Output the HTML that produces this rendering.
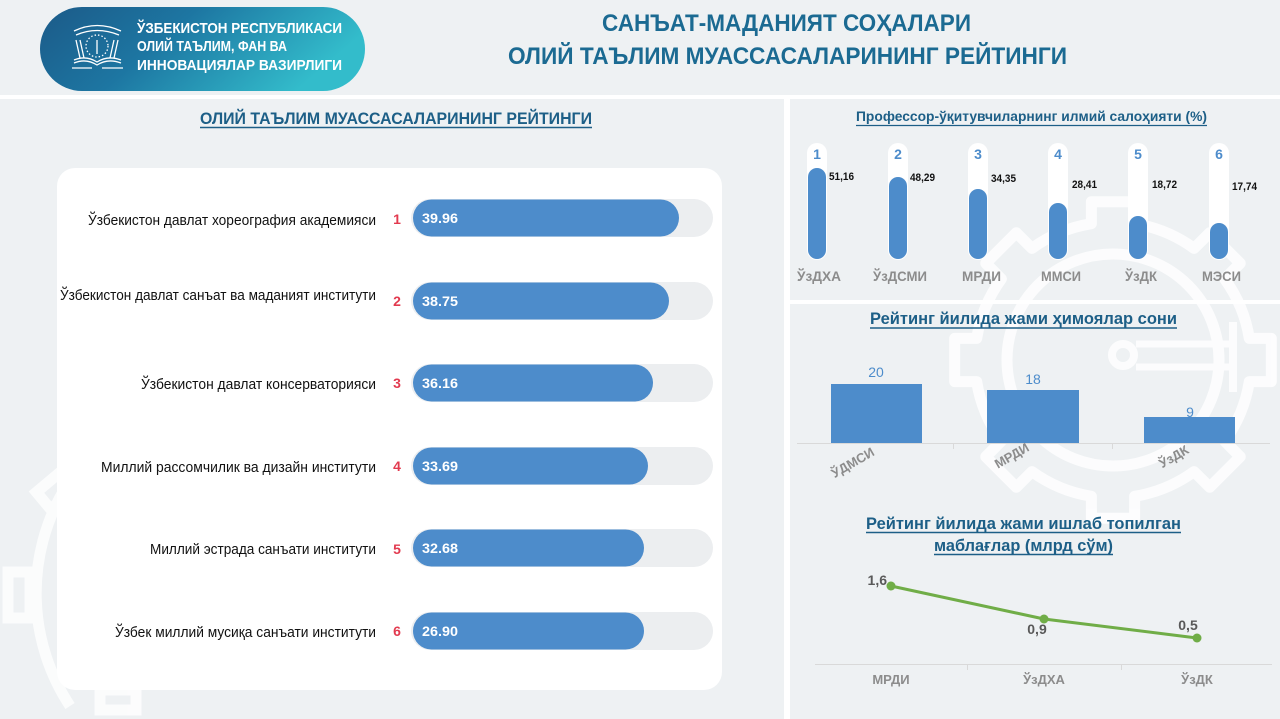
<!DOCTYPE html>
<html>
<head>
<meta charset="utf-8">
<style>
html,body{margin:0;padding:0;background:#eef1f3;width:1280px;height:719px;overflow:hidden;}
svg{display:block;position:absolute;left:0;top:0;}
text{font-family:"Liberation Sans","DejaVu Sans",sans-serif;}
</style>
</head>
<body>
<svg width="1280" height="719" viewBox="0 0 1280 719" xmlns="http://www.w3.org/2000/svg" overflow="hidden">
<defs>
  <linearGradient id="pill" x1="0" y1="0" x2="1" y2="0.3">
    <stop offset="0" stop-color="#1b5a88"/>
    <stop offset="0.45" stop-color="#1d76a2"/>
    <stop offset="1" stop-color="#33bccb"/>
  </linearGradient>
</defs>

<!-- background -->
<rect x="0" y="0" width="1280" height="719" fill="#eef1f3"/>

<!-- decorative gears -->
<g fill="none" stroke="#ffffff" stroke-width="11" opacity="0.85" stroke-linejoin="round">
  <path d="M1134.6,223.7 A138 138 0 0 1 1194.1,248.4 L1209.7,232.8 L1240.2,263.3 L1224.6,278.9 A138 138 0 0 1 1249.3,338.4 L1271.3,338.4 L1271.3,381.6 L1249.3,381.6 A138 138 0 0 1 1224.6,441.1 L1240.2,456.7 L1209.7,487.2 L1194.1,471.6 A138 138 0 0 1 1134.6,496.3 L1134.6,518.3 L1091.4,518.3 L1091.4,496.3 A138 138 0 0 1 1031.9,471.6 L1016.3,487.2 L985.8,456.7 L1001.4,441.1 A138 138 0 0 1 976.7,381.6 L954.7,381.6 L954.7,338.4 L976.7,338.4 A138 138 0 0 1 1001.4,278.9 L985.8,263.3 L1016.3,232.8 L1031.9,248.4 A138 138 0 0 1 1091.4,223.7 L1091.4,201.7 L1134.6,201.7 Z"/>
  <circle cx="1113" cy="360" r="106"/>
  <circle cx="1123" cy="355" r="11" stroke-width="8"/>
  <line x1="1136" y1="344" x2="1233" y2="344" stroke-width="7"/>
  <line x1="1136" y1="367" x2="1233" y2="367" stroke-width="7"/>
  <line x1="1233" y1="322" x2="1233" y2="392" stroke-width="8"/>
</g>
<g fill="none" stroke="#ffffff" stroke-width="11" opacity="0.8">
  <path d="M64,490 A205 205 0 0 0 70,706"/>
  <rect x="8" y="572" width="22" height="46"/>
  <rect x="100" y="690" width="36" height="20"/>
  <rect x="40" y="480" width="30" height="22" transform="rotate(-40 55 491)"/>
</g>

<!-- separators -->
<rect x="0" y="95" width="1280" height="4" fill="#ffffff"/>
<rect x="784" y="95" width="6" height="624" fill="#ffffff"/>
<rect x="790" y="300" width="490" height="4" fill="#ffffff"/>

<!-- header pill -->
<rect x="40" y="7" width="325" height="84" rx="42" fill="url(#pill)"/>
<g fill="none" stroke="#ffffff" stroke-width="1.3">
  <path d="M74,31 Q97,20 121,31"/>
  <path d="M76,35 Q97,26 119,35"/>
  <circle cx="97" cy="46" r="11" stroke-dasharray="1.5 2"/>
  <line x1="97" y1="40" x2="97" y2="54"/>
  <path d="M76,40 L80,58 M80,40 L84,58 M114,40 L110,58 M118,40 L114,58"/>
  <path d="M74,60 Q86,55 97,62 Q108,55 121,60"/>
  <path d="M74,63 Q86,58 97,65 Q108,58 121,63"/>
  <line x1="72" y1="68" x2="92" y2="68"/>
  <line x1="102" y1="68" x2="123" y2="68"/>
</g>
<g fill="#ffffff" font-weight="bold" font-size="15">
  <text x="137" y="33" textLength="205" lengthAdjust="spacingAndGlyphs">ЎЗБЕКИСТОН РЕСПУБЛИКАСИ</text>
  <text x="137" y="51" textLength="150" lengthAdjust="spacingAndGlyphs">ОЛИЙ ТАЪЛИМ, ФАН ВА</text>
  <text x="137" y="70" textLength="205" lengthAdjust="spacingAndGlyphs">ИННОВАЦИЯЛАР ВАЗИРЛИГИ</text>
</g>

<!-- main title -->
<g fill="#1b6a92" font-weight="bold" font-size="24">
  <text x="602" y="31" textLength="369" lengthAdjust="spacingAndGlyphs">САНЪАТ-МАДАНИЯТ СОҲАЛАРИ</text>
  <text x="508" y="64" textLength="559" lengthAdjust="spacingAndGlyphs">ОЛИЙ ТАЪЛИМ МУАССАСАЛАРИНИНГ РЕЙТИНГИ</text>
</g>

<!-- left subtitle -->
<text x="200" y="124" fill="#1d5f87" font-weight="bold" font-size="17" textLength="392" lengthAdjust="spacingAndGlyphs">ОЛИЙ ТАЪЛИМ МУАССАСАЛАРИНИНГ РЕЙТИНГИ</text>
<line x1="200" y1="127.5" x2="592" y2="127.5" stroke="#1d5f87" stroke-width="1.5"/>

<!-- white card -->
<rect x="57" y="168" width="665" height="522" rx="18" fill="#ffffff"/>

<!-- rows -->
<g font-size="15" fill="#111111">
  <text x="88" y="225" textLength="288" lengthAdjust="spacingAndGlyphs">Ўзбекистон давлат хореография академияси</text>
  <text x="60" y="300" textLength="316" lengthAdjust="spacingAndGlyphs">Ўзбекистон давлат санъат ва маданият институти</text>
  <text x="141" y="389" textLength="235" lengthAdjust="spacingAndGlyphs">Ўзбекистон давлат консерваторияси</text>
  <text x="101" y="472" textLength="275" lengthAdjust="spacingAndGlyphs">Миллий рассомчилик ва дизайн институти</text>
  <text x="150" y="554" textLength="226" lengthAdjust="spacingAndGlyphs">Миллий эстрада санъати институти</text>
  <text x="115" y="637" textLength="261" lengthAdjust="spacingAndGlyphs">Ўзбек миллий мусиқа санъати институти</text>
</g>
<g font-size="14" font-weight="bold" fill="#e23a4f" text-anchor="middle">
  <text x="397" y="224">1</text>
  <text x="397" y="306">2</text>
  <text x="397" y="388">3</text>
  <text x="397" y="471">4</text>
  <text x="397" y="554">5</text>
  <text x="397" y="636">6</text>
</g>
<g fill="#eceef0">
  <rect x="411" y="199" width="302" height="38" rx="19"/>
  <rect x="411" y="282" width="302" height="38" rx="19"/>
  <rect x="411" y="364" width="302" height="38" rx="19"/>
  <rect x="411" y="447" width="302" height="38" rx="19"/>
  <rect x="411" y="529" width="302" height="38" rx="19"/>
  <rect x="411" y="612" width="302" height="38" rx="19"/>
</g>
<g fill="#4d8ccb">
  <rect x="413" y="199.5" width="266" height="37" rx="18.5"/>
  <rect x="413" y="282.5" width="256" height="37" rx="18.5"/>
  <rect x="413" y="364.5" width="240" height="37" rx="18.5"/>
  <rect x="413" y="447.5" width="235" height="37" rx="18.5"/>
  <rect x="413" y="529.5" width="231" height="37" rx="18.5"/>
  <rect x="413" y="612.5" width="231" height="37" rx="18.5"/>
</g>
<g font-size="14" font-weight="bold" fill="#ffffff">
  <text x="422" y="223" textLength="36" lengthAdjust="spacingAndGlyphs">39.96</text>
  <text x="422" y="306" textLength="36" lengthAdjust="spacingAndGlyphs">38.75</text>
  <text x="422" y="388" textLength="36" lengthAdjust="spacingAndGlyphs">36.16</text>
  <text x="422" y="471" textLength="36" lengthAdjust="spacingAndGlyphs">33.69</text>
  <text x="422" y="553" textLength="36" lengthAdjust="spacingAndGlyphs">32.68</text>
  <text x="422" y="636" textLength="36" lengthAdjust="spacingAndGlyphs">26.90</text>
</g>

<!-- right section 1 -->
<text x="856" y="121" fill="#1d5f87" font-weight="bold" font-size="14" textLength="351" lengthAdjust="spacingAndGlyphs">Профессор-ўқитувчиларнинг илмий салоҳияти (%)</text>
<line x1="856" y1="125.5" x2="1207" y2="125.5" stroke="#1d5f87" stroke-width="1.3"/>

<g fill="#ffffff">
  <rect x="807" y="143" width="20" height="117" rx="10"/>
  <rect x="888" y="143" width="20" height="117" rx="10"/>
  <rect x="968" y="143" width="20" height="117" rx="10"/>
  <rect x="1048" y="143" width="20" height="117" rx="10"/>
  <rect x="1128" y="143" width="20" height="117" rx="10"/>
  <rect x="1209" y="143" width="20" height="117" rx="10"/>
</g>
<g fill="#4d8ccb">
  <rect x="808" y="168" width="18" height="91" rx="9"/>
  <rect x="889" y="177" width="18" height="82" rx="9"/>
  <rect x="969" y="189" width="18" height="70" rx="9"/>
  <rect x="1049" y="203" width="18" height="56" rx="9"/>
  <rect x="1129" y="216" width="18" height="43" rx="9"/>
  <rect x="1210" y="223" width="18" height="36" rx="9"/>
</g>
<g font-size="14" font-weight="bold" fill="#4d8ccb" text-anchor="middle">
  <text x="817" y="159">1</text>
  <text x="898" y="159">2</text>
  <text x="978" y="159">3</text>
  <text x="1058" y="159">4</text>
  <text x="1138" y="159">5</text>
  <text x="1219" y="159">6</text>
</g>
<g font-size="11" font-weight="bold" fill="#111111">
  <text x="829" y="180" textLength="25" lengthAdjust="spacingAndGlyphs">51,16</text>
  <text x="910" y="181" textLength="25" lengthAdjust="spacingAndGlyphs">48,29</text>
  <text x="991" y="182" textLength="25" lengthAdjust="spacingAndGlyphs">34,35</text>
  <text x="1072" y="188" textLength="25" lengthAdjust="spacingAndGlyphs">28,41</text>
  <text x="1152" y="188" textLength="25" lengthAdjust="spacingAndGlyphs">18,72</text>
  <text x="1232" y="190" textLength="25" lengthAdjust="spacingAndGlyphs">17,74</text>
</g>
<g font-size="14" font-weight="bold" fill="#8c8c8c">
  <text x="797" y="281" textLength="44" lengthAdjust="spacingAndGlyphs">ЎзДХА</text>
  <text x="873" y="281" textLength="54" lengthAdjust="spacingAndGlyphs">ЎзДСМИ</text>
  <text x="962" y="281" textLength="39" lengthAdjust="spacingAndGlyphs">МРДИ</text>
  <text x="1041" y="281" textLength="40" lengthAdjust="spacingAndGlyphs">ММСИ</text>
  <text x="1125" y="281" textLength="32" lengthAdjust="spacingAndGlyphs">ЎзДК</text>
  <text x="1202" y="281" textLength="39" lengthAdjust="spacingAndGlyphs">МЭСИ</text>
</g>

<!-- right section 2 -->
<text x="870" y="324" fill="#1d5f87" font-weight="bold" font-size="17" textLength="307" lengthAdjust="spacingAndGlyphs">Рейтинг йилида жами ҳимоялар сони</text>
<line x1="870" y1="328" x2="1177" y2="328" stroke="#1d5f87" stroke-width="1.5"/>

<line x1="797" y1="443.5" x2="1270" y2="443.5" stroke="#d9d9d9" stroke-width="1"/>
<line x1="953.5" y1="443" x2="953.5" y2="449" stroke="#d9d9d9" stroke-width="1"/>
<line x1="1112.5" y1="443" x2="1112.5" y2="449" stroke="#d9d9d9" stroke-width="1"/>
<g fill="#4d8ccb">
  <rect x="831" y="384" width="91" height="59"/>
  <rect x="987" y="390" width="92" height="53"/>
  <rect x="1144" y="417" width="91" height="26"/>
</g>
<g font-size="14" fill="#4d8ccb" text-anchor="middle">
  <text x="876" y="377">20</text>
  <text x="1033" y="384">18</text>
  <text x="1190" y="417">9</text>
</g>
<g font-size="13" font-weight="bold" fill="#8c8c8c" text-anchor="middle">
  <text x="853" y="467" transform="rotate(-30 853 463)">ЎДМСИ</text>
  <text x="1012" y="460" transform="rotate(-30 1012 456)">МРДИ</text>
  <text x="1174" y="461" transform="rotate(-30 1174 457)">ЎзДК</text>
</g>

<!-- right section 3 -->
<text x="866" y="529" fill="#1d5f87" font-weight="bold" font-size="17" textLength="315" lengthAdjust="spacingAndGlyphs">Рейтинг йилида жами ишлаб топилган</text>
<line x1="866" y1="532.5" x2="1181" y2="532.5" stroke="#1d5f87" stroke-width="1.5"/>
<text x="934" y="551" fill="#1d5f87" font-weight="bold" font-size="17" textLength="179" lengthAdjust="spacingAndGlyphs">маблағлар (млрд сўм)</text>
<line x1="934" y1="554.5" x2="1113" y2="554.5" stroke="#1d5f87" stroke-width="1.5"/>

<line x1="815" y1="664.5" x2="1272" y2="664.5" stroke="#d9d9d9" stroke-width="1"/>
<line x1="967.5" y1="664" x2="967.5" y2="670" stroke="#d9d9d9" stroke-width="1"/>
<line x1="1121.5" y1="664" x2="1121.5" y2="670" stroke="#d9d9d9" stroke-width="1"/>
<polyline points="891,586 1044,619 1197,638" fill="none" stroke="#70ad47" stroke-width="3" stroke-linejoin="round"/>
<g fill="#70ad47">
  <circle cx="891" cy="586" r="4.5"/>
  <circle cx="1044" cy="619" r="4.5"/>
  <circle cx="1197" cy="638" r="4.5"/>
</g>
<g font-size="14" font-weight="bold" fill="#595959">
  <text x="887" y="585" text-anchor="end">1,6</text>
  <text x="1037" y="634" text-anchor="middle">0,9</text>
  <text x="1188" y="630" text-anchor="middle">0,5</text>
</g>
<g font-size="13" font-weight="bold" fill="#8c8c8c" text-anchor="middle">
  <text x="891" y="684">МРДИ</text>
  <text x="1044" y="684">ЎзДХА</text>
  <text x="1197" y="684">ЎзДК</text>
</g>
</svg>
</body>
</html>
